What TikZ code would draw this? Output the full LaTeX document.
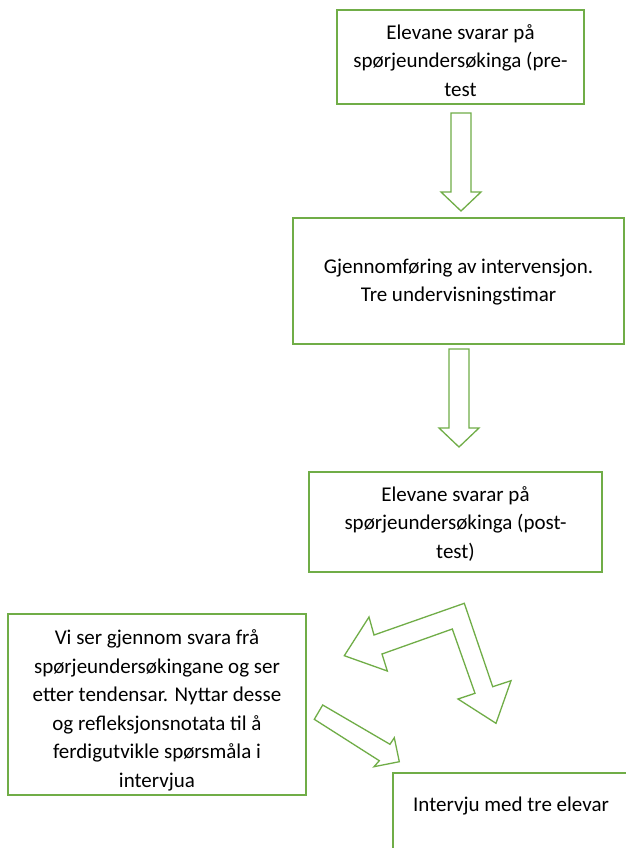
\documentclass[tikz,border=0pt]{standalone}
\usepackage{fontspec}
\setmainfont{Carlito}
\definecolor{boxgreen}{HTML}{70AD47}
\begin{document}
\begin{tikzpicture}[x=1pt,y=-1pt,
  box/.style={draw=boxgreen, line width=1.3pt, fill=white, rectangle, inner sep=0pt},
  blockarrow/.style={draw=boxgreen, line width=1.3pt, line join=miter, fill=white},
  txt/.style={inner sep=0pt, align=center, font=\fontsize{21}{28.5}\selectfont}]
\fill[white] (0,0) rectangle (625,848);
\useasboundingbox (0,0) rectangle (625,848);
% boxes
\node[box, minimum width=247pt, minimum height=94pt] (b1) at (460.5,57) {};
\node[box, minimum width=331pt, minimum height=126pt] (b2) at (458.5,281) {};
\node[box, minimum width=293pt, minimum height=100pt] (b3) at (455.5,522) {};
\node[box, minimum width=298pt, minimum height=181pt] (b4) at (157,704.5) {};
\coordinate (b5nw) at (393,773);
\coordinate (b5se) at (660,880);
\draw[draw=boxgreen, line width=1.3pt] (b5nw) rectangle (b5se);
% texts
\node[txt] (t1) at ([yshift=-3.5pt]b1.center) {Elevane svarar på\\spørjeundersøkinga (pre-\\test};
\node[txt] (t2) at ([yshift=-1pt]b2.center) {Gjennomføring av intervensjon.\\Tre undervisningstimar};
\node[txt] (t3) at ([yshift=-2pt]b3.center) {Elevane svarar på\\spørjeundersøkinga (post-\\test)};
\node[txt] (t4) at ([yshift=-6pt]b4.center) {Vi ser gjennom svara frå\\spørjeundersøkingane og ser\\etter tendensar. Nyttar desse\\og refleksjonsnotata til å\\ferdigutvikle spørsmåla i\\intervjua};
\node[txt, anchor=west] (t5) at (413,806) {Intervju med tre elevar};
% straight block arrows
\draw[blockarrow] (451,113) -- (471,113) -- (471,192) -- (481,192) -- (461,211) -- (441,192) -- (451,192) -- cycle;
\draw[blockarrow] (449,349) -- (469,349) -- (469,428) -- (479,428) -- (459,447) -- (439,428) -- (449,428) -- cycle;
% bent double-headed arrow
\draw[blockarrow] (464.3,603.3) -- (374,635) -- (369,617) -- (344.3,655.7) -- (387.3,671) -- (382,654)
  -- (452.3,629) -- (475,693.3) -- (458,699) -- (496,723.3) -- (511,680.7) -- (492.7,686.7) -- cycle;
% small diagonal arrow
\draw[blockarrow] (314.3,719.3) -- (322.7,705) -- (390,744.3) -- (394.3,737.7) -- (399.3,761.7)
  -- (374,766.7) -- (379.3,760.7) -- cycle;
\end{tikzpicture}
\end{document}
